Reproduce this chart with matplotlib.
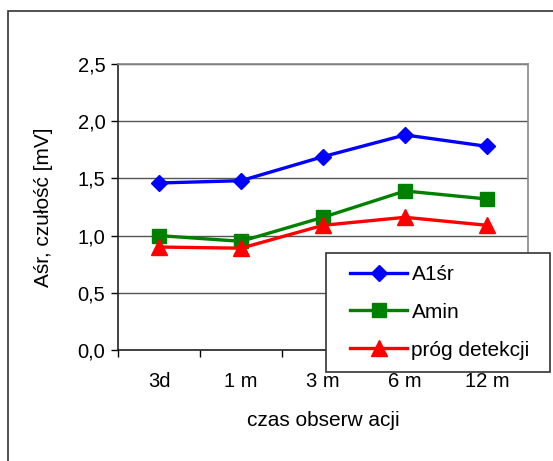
import matplotlib.pyplot as plt
from matplotlib.patches import Rectangle

plt.rcParams['font.family'] = ['Liberation Sans', 'DejaVu Sans']

# czas obserwacji i wartości średnie [mV]
okresy = ["3d", "1 m", "3 m", "6 m", "12 m"]
a1_sr = [1.46, 1.48, 1.69, 1.88, 1.78]
a_min = [1.00, 0.95, 1.16, 1.39, 1.32]
prog_detekcji = [0.90, 0.89, 1.09, 1.16, 1.09]
y_ticks = [0.0, 0.5, 1.0, 1.5, 2.0, 2.5]

W, H = 553, 461
fig = plt.figure(figsize=(W / 100, H / 100), dpi=100)

# ramka wokół całego wykresu
fig.patches.append(Rectangle((8 / W, -0.1), 1.2, 1 - 11 / H + 0.1,
                             transform=fig.transFigure, fill=False,
                             edgecolor='#333333', linewidth=1.2))

ax = fig.add_axes([118 / W, (H - 350) / H, 410 / W, 286 / H])
x = list(range(len(okresy)))

ax.plot(x, a1_sr, color='#0000ff', lw=2.4, marker='D', ms=8, label='A1śr')
ax.plot(x, a_min, color='#008000', lw=2.4, marker='s', ms=10, label='Amin')
ax.plot(x, prog_detekcji, color='#ff0000', lw=2.4, marker='^', ms=11,
        label='próg detekcji')

ax.set_xlim(-0.5, len(okresy) - 0.5)
ax.set_ylim(0, 2.5)
ax.set_yticks(y_ticks)
ax.set_yticklabels([f"{v:.1f}".replace('.', ',') for v in y_ticks])
ax.set_xticks(x)
ax.set_xticklabels(okresy)
ax.set_xticks([i - 0.5 for i in range(len(okresy) + 1)], minor=True)
ax.tick_params(axis='x', which='major', length=0, pad=16, labelsize=14.5)
ax.tick_params(axis='x', which='minor', length=5, direction='out', width=1)
ax.tick_params(axis='y', length=5, width=1, labelsize=14.5, pad=4)

ax.yaxis.grid(True, color='#555555', linewidth=1)
ax.set_axisbelow(True)
for s in ['left', 'bottom']:
    ax.spines[s].set_color('#222222')
    ax.spines[s].set_linewidth(1.2)
for s in ['top', 'right']:
    ax.spines[s].set_color('#888888')
    ax.spines[s].set_linewidth(1.2)

ax.set_xlabel('czas obserw acji', fontsize=15, labelpad=14)
ax.set_ylabel('Aśr, czułość [mV]', fontsize=15, labelpad=18)

# białe pole legendy z ramką
ax.add_patch(Rectangle((326 / W, 1 - 372 / H), 224 / W, 119 / H,
                       transform=fig.transFigure, clip_on=False,
                       facecolor='white', edgecolor='#333333',
                       linewidth=1.2, zorder=4))

ax.legend(loc='upper left', bbox_to_anchor=(350 / W, 1 - 265 / H),
          bbox_transform=fig.transFigure, fontsize=15, frameon=False,
          handlelength=2.75, labelspacing=0.9, borderpad=0,
          handletextpad=0.2, borderaxespad=0)

fig.savefig('out.png', dpi=100)
